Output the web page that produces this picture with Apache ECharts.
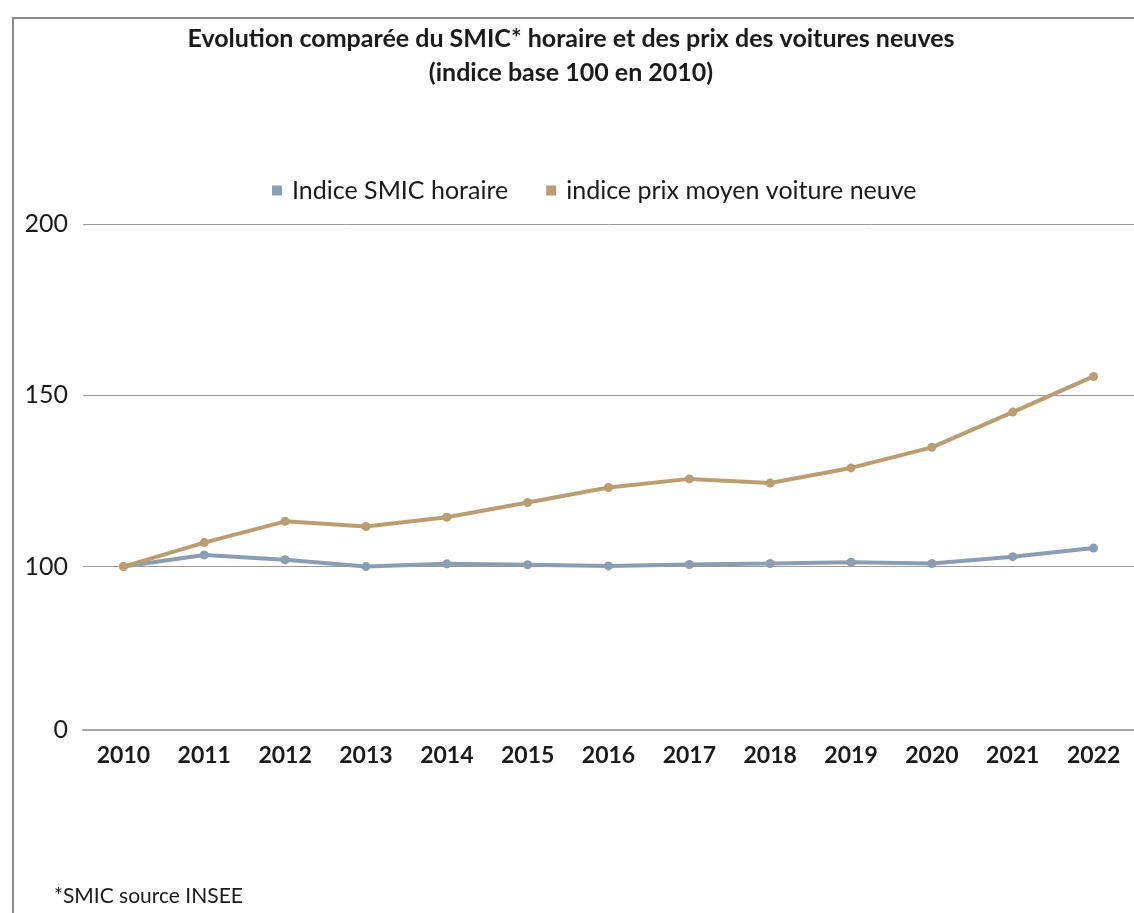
<!DOCTYPE html>
<html>
<head>
<meta charset="utf-8">
<title>SMIC vs voitures neuves</title>
<script src="https://cdn.jsdelivr.net/npm/echarts@6/dist/echarts.min.js"></script>
<style>
  html, body { margin: 0; padding: 0; background: #fff; }
  #main { width: 1134px; height: 913px; }
  /* cadre gris du graphique d'origine */
  #frame {
    position: absolute; left: 12px; top: 17px; width: 1200px; height: 1000px;
    border-left: 2px solid #8a8a8a; border-top: 2px solid #8a8a8a;
    pointer-events: none;
  }
</style>
</head>
<body>
<div id="main"></div>
<div id="frame"></div>
<script>
const years = ['2010', '2011', '2012', '2013', '2014', '2015', '2016', '2017', '2018', '2019', '2020', '2021', '2022'];
const smicIndex = [100, 103.4, 102.0, 100.0, 100.8, 100.5, 100.2, 100.6, 100.9, 101.3, 100.9, 102.9, 105.4];
const voitureIndex = [100, 107.0, 113.2, 111.7, 114.4, 118.7, 123.1, 125.6, 124.4, 128.8, 134.8, 145.1, 155.5];

// l'axe d'origine est "cassé" : le 0 est dessiné juste sous 100
const yBottom = 52.3;
const yTickValues = [yBottom, 100, 150, 200];
const yTickLabels = ['0', '100', '150', '200'];

const FONT = 'Lato';

let chart = echarts.init(document.getElementById('main'));

let option = {
  backgroundColor: '#fff',
  textStyle: { fontFamily: FONT },
  title: [{
    text: 'Evolution comparée du SMIC* horaire et des prix des voitures neuves\n(indice base 100 en 2010)',
    left: 566,
    top: 17,
    textAlign: 'center',
    textStyle: {
      fontFamily: FONT,
      fontSize: 25,
      fontWeight: 'bold',
      color: '#1a1a1a',
      lineHeight: 34
    }
  }, {
    text: '*SMIC source INSEE',
    left: 49,
    top: 881,
    textStyle: { fontFamily: FONT, fontSize: 21, fontWeight: 'normal', color: '#1a1a1a' }
  }],
  legend: {
    top: 173,
    left: 267,
    icon: 'rect',
    itemWidth: 10,
    itemHeight: 10,
    itemGap: 38,
    textStyle: { fontFamily: FONT, fontSize: 25, color: '#1a1a1a', padding: [0, 0, 0, 5] },
    data: ['Indice SMIC horaire', 'indice prix moyen voiture neuve']
  },
  grid: {
    left: 83,
    top: 224,
    width: 1056,
    height: 506,
    containLabel: false
  },
  xAxis: {
    type: 'category',
    data: years,
    boundaryGap: true,
    axisLine: { show: true, lineStyle: { color: '#a6a6a6', width: 2 } },
    axisTick: { show: false },
    axisLabel: {
      interval: 0,
      margin: 14,
      fontFamily: FONT,
      fontSize: 23,
      fontWeight: 'bold',
      color: '#1a1a1a'
    }
  },
  yAxis: {
    type: 'value',
    min: yBottom,
    max: 200,
    axisLine: { show: false },
    axisTick: { show: false, customValues: yTickValues },
    axisLabel: {
      customValues: yTickValues,
      margin: 15,
      fontFamily: FONT,
      fontSize: 25,
      color: '#1a1a1a',
      formatter: function (v) {
        let i = yTickValues.indexOf(v);
        return i >= 0 ? yTickLabels[i] : '';
      }
    },
    splitLine: { show: true, lineStyle: { color: '#9a9a9a', width: 1 } }
  },
  series: [{
    name: 'Indice SMIC horaire',
    type: 'line',
    data: smicIndex,
    symbol: 'circle',
    symbolSize: 9,
    color: '#8a9db1',
    lineStyle: { width: 4 },
    z: 2
  }, {
    name: 'indice prix moyen voiture neuve',
    type: 'line',
    data: voitureIndex,
    symbol: 'circle',
    symbolSize: 9,
    color: '#bb9d72',
    lineStyle: { width: 4 },
    z: 3
  }]
};

chart.setOption(option);
</script>
</body>
</html>
